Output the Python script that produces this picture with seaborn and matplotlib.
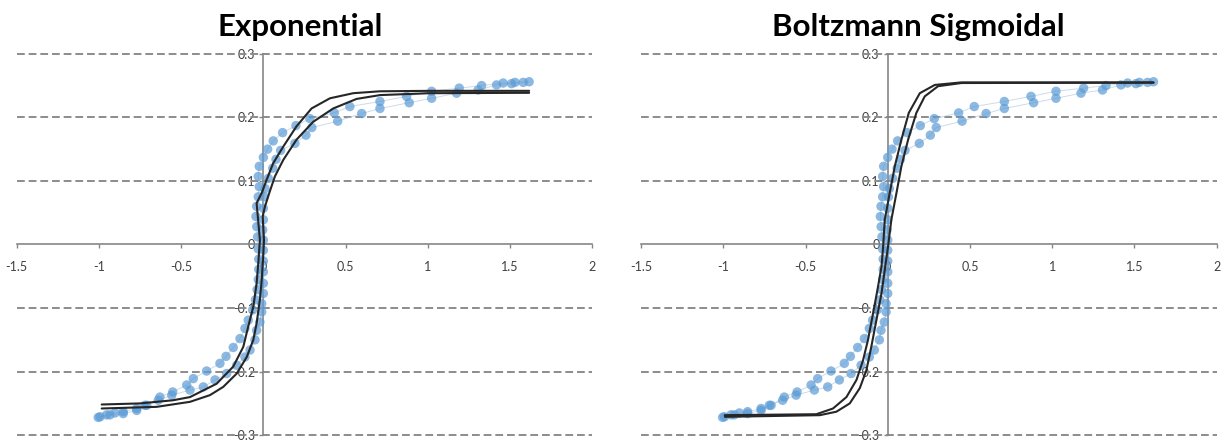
import numpy as np
import matplotlib
matplotlib.use("Agg")
import matplotlib.pyplot as plt
import seaborn as sns

sns.set_style("white")
plt.rcParams['font.family'] = ['Lato', 'DejaVu Sans']

# measured hysteresis loop, branch A (outer, going up) and branch B (inner, going down)
loop_a_x = [-1.004, -0.953, -0.902, -0.852, -0.770, -0.709, -0.629, -0.551, -0.466, -0.426,
            -0.345, -0.264, -0.227, -0.183, -0.142, -0.112, -0.092, -0.065, -0.048, -0.038,
            -0.031, -0.028, -0.028, -0.031, -0.035, -0.040, -0.045, -0.041, -0.031, -0.025,
            -0.031, -0.025, 0.000, 0.026, 0.060, 0.117, 0.198, 0.283, 0.431, 0.526,
            0.709, 0.871, 1.023, 1.191, 1.327, 1.458, 1.530, 1.616]
loop_a_y = [-0.272, -0.268, -0.265, -0.263, -0.258, -0.253, -0.240, -0.232, -0.221, -0.211,
            -0.199, -0.187, -0.176, -0.162, -0.148, -0.132, -0.119, -0.103, -0.087, -0.071,
            -0.055, -0.039, -0.023, -0.007, 0.012, 0.028, 0.044, 0.060, 0.075, 0.091,
            0.107, 0.123, 0.137, 0.150, 0.163, 0.176, 0.187, 0.198, 0.207, 0.217,
            0.225, 0.233, 0.241, 0.246, 0.250, 0.254, 0.255, 0.256]
loop_b_x = [1.580, 1.509, 1.418, 1.306, 1.175, 1.023, 0.887, 0.709, 0.598, 0.452,
            0.295, 0.259, 0.192, 0.105, 0.077, 0.057, 0.030, 0.010, 0.004, 0.000,
            0.000, -0.004, 0.000, 0.000, 0.000, 0.000, 0.000, 0.000, -0.010, -0.010,
            -0.021, -0.041, -0.051, -0.081, -0.112, -0.162, -0.223, -0.294, -0.365, -0.446,
            -0.557, -0.639, -0.720, -0.770, -0.852, -0.933, -0.993]
loop_b_y = [0.255, 0.253, 0.251, 0.243, 0.238, 0.230, 0.223, 0.214, 0.206, 0.194,
            0.184, 0.172, 0.159, 0.148, 0.134, 0.120, 0.104, 0.088, 0.075, 0.057,
            0.039, 0.023, 0.007, -0.009, -0.026, -0.043, -0.061, -0.077, -0.093, -0.106,
            -0.122, -0.135, -0.150, -0.166, -0.177, -0.190, -0.203, -0.213, -0.224, -0.229,
            -0.237, -0.245, -0.253, -0.261, -0.266, -0.268, -0.271]

# fitted curves
exp1_x = [-0.983, -0.750, -0.548, -0.446, -0.284, -0.183, -0.122, -0.092, -0.061, -0.041,
          -0.031, -0.021, -0.041, -0.010, 0.020, 0.060, 0.121, 0.202, 0.293, 0.405,
          0.547, 0.709, 1.013, 1.616]
exp1_y = [-0.2517, -0.250, -0.245, -0.240, -0.219, -0.192, -0.161, -0.129, -0.098, -0.061,
          -0.030, 0.007, 0.065, 0.081, 0.102, 0.128, 0.154, 0.186, 0.214, 0.230,
          0.238, 0.241, 0.2417, 0.2417]
exp2_x = [-0.983, -0.649, -0.446, -0.325, -0.244, -0.162, -0.101, -0.061, -0.041, -0.021,
          -0.010, -0.001, 0.004, -0.004, 0.010, 0.036, 0.070, 0.121, 0.202, 0.303,
          0.425, 0.567, 0.709, 1.013, 1.616]
exp2_y = [-0.258, -0.2554, -0.2475, -0.237, -0.224, -0.203, -0.177, -0.150, -0.124, -0.087,
          -0.056, -0.019, 0.007, 0.044, 0.060, 0.081, 0.107, 0.133, 0.165, 0.193,
          0.214, 0.229, 0.235, 0.238, 0.2386]
bz1_x = [-0.991, -0.434, -0.333, -0.251, -0.190, -0.150, -0.120, -0.089, -0.063, -0.038,
         -0.028, -0.018, 0.012, 0.043, 0.083, 0.128, 0.195, 0.286, 0.448, 1.616]
bz1_y = [-0.2685, -0.267, -0.258, -0.240, -0.213, -0.182, -0.150, -0.108, -0.072, -0.035,
         -0.003, 0.039, 0.081, 0.123, 0.165, 0.207, 0.238, 0.251, 0.255, 0.255]
bz2_x = [-0.990, -0.413, -0.312, -0.231, -0.170, -0.130, -0.100, -0.069, -0.038, -0.018,
         0.002, 0.022, 0.053, 0.083, 0.124, 0.174, 0.225, 0.306, 0.448, 1.616]
bz2_y = [-0.2711, -0.2685, -0.263, -0.250, -0.226, -0.198, -0.161, -0.119, -0.077, -0.040,
         -0.003, 0.039, 0.081, 0.123, 0.165, 0.207, 0.233, 0.249, 0.254, 0.2545]

titles = ["Exponential", "Boltzmann Sigmoidal"]
xticks = [-1.5, -1, -0.5, 0, 0.5, 1, 1.5, 2]
xtick_labels = ["-1.5", "-1", "-0.5", "0", "0.5", "1", "1.5", "2"]
yticks = [-0.3, -0.2, -0.1, 0, 0.1, 0.2, 0.3]
ytick_labels = ["-0.3", "-0.2", "-0.1", "0", "0.1", "0.2", "0.3"]

fig = plt.figure(figsize=(12.25, 4.43), dpi=100)
ax1 = fig.add_axes([0.0136, 0.0176, 0.4699, 0.861])
ax2 = fig.add_axes([0.5233, 0.0176, 0.4699, 0.861])

point_col = "#5b9bd5"
curve_col = "#262626"
axis_col = "#868686"

curves = [[(exp1_x, exp1_y), (exp2_x, exp2_y)], [(bz1_x, bz1_y), (bz2_x, bz2_y)]]
title_x = [0.492, 0.481]

for i, ax in enumerate([ax1, ax2]):
    ax.set_xlim(-1.5, 2)
    ax.set_ylim(-0.3, 0.3)

    for yv in yticks:
        if yv != 0:
            ax.axhline(yv, color="#8c8c8c", lw=1.4, dashes=(4, 2), clip_on=False, zorder=1)

    # faint connector lines, then the points
    for bx, by in [(loop_a_x, loop_a_y), (loop_b_x, loop_b_y)]:
        sns.lineplot(x=bx, y=by, sort=False, estimator=None, ax=ax,
                     color="#a9c4dc", lw=0.7, alpha=0.6, zorder=2)
        sns.scatterplot(x=bx, y=by, ax=ax, color=point_col, s=46,
                        alpha=0.7, edgecolor="none", zorder=3)

    for cx, cy in curves[i]:
        sns.lineplot(x=cx, y=cy, sort=False, estimator=None, ax=ax,
                     color=curve_col, lw=1.5, zorder=4)

    ax.spines["left"].set_position(("data", 0))
    ax.spines["bottom"].set_position(("data", 0))
    ax.spines["top"].set_visible(False)
    ax.spines["right"].set_visible(False)
    for s in ["left", "bottom"]:
        ax.spines[s].set_color(axis_col)
        ax.spines[s].set_linewidth(1.2)
        ax.spines[s].set_zorder(1.5)

    ax.set_xticks(xticks)
    ax.set_xticklabels(xtick_labels)
    ax.set_yticks(yticks)
    ax.set_yticklabels(ytick_labels)
    ax.tick_params(axis="x", direction="out", length=3, width=1, color=axis_col,
                   pad=9, labelsize=9, labelcolor="#404040", bottom=True)
    ax.tick_params(axis="y", direction="out", length=3, width=1, color=axis_col,
                   pad=3, labelsize=9, labelcolor="#404040", left=True)
    ax.set_xlabel("")
    ax.set_ylabel("")
    ax.patch.set_alpha(0)

    ax.text(title_x[i], 1.047, titles[i], transform=ax.transAxes, ha="center",
            va="baseline", fontsize=22.5, fontweight="bold", color="black")

fig.savefig("out.png", dpi=100)
